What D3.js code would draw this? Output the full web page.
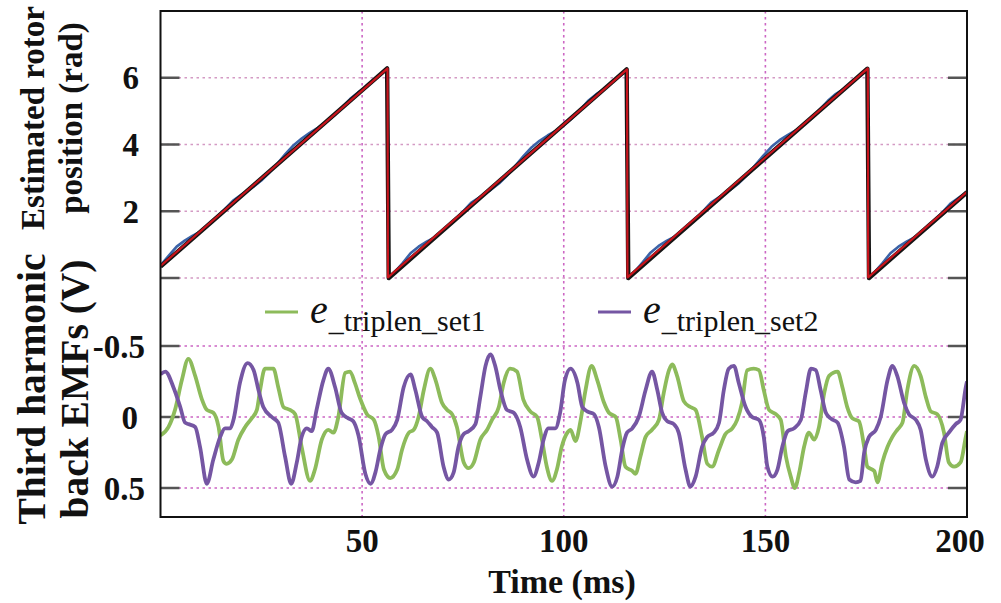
<!DOCTYPE html>
<html><head><meta charset="utf-8">
<script src="https://cdn.jsdelivr.net/npm/d3@7"></script>
<style>
html,body{margin:0;padding:0;background:#fff;}
svg{display:block;}
text{font-family:"Liberation Serif","Times New Roman",serif;}
</style></head>
<body>
<svg id="c" width="1001" height="603"></svg>
<script>
// ---------- data ----------
const timeTicks = [50, 100, 150, 200];
const posTicks = [0, 2, 4, 6];
const posTickLabels = [2, 4, 6];
const emfTicks = [-0.5, 0, 0.5];
const emfTickLabels = ["-0.5", "0", "0.5"];

// reference (black) and estimated (red) rotor position [ms, rad]
const posBlack = [[0,0.34],[56.2,6.28],[56.6,0],[115.6,6.25],[116.0,0],[175.3,6.27],[175.7,0],[200,2.57]];
const posRed   = [[0,0.36],[56.3,6.28],[56.4,0.02],[115.7,6.25],[115.8,0.02],[175.4,6.28],[175.5,0.02],[200,2.58]];
// blue (rippled) rotor position [ms, rad]
const posBlue = [
 [0,0.38],[2,0.66],[4,0.94],[6,1.12],[8,1.27],[10,1.40],[13,1.70],[16,2.07],[18,2.32],[20,2.49],[23,2.73],[25,2.92],[27,3.16],[29,3.43],[31,3.72],[33,3.98],[35,4.18],[37,4.35],[39,4.50],[41,4.67],[43,4.86],[45,5.11],[47,5.36],[49,5.56],[51,5.73],[54,6.04],[56.2,6.27],[56.6,0],
 [58,0.17],[60,0.44],[62,0.74],[64,0.94],[66,1.09],[68,1.22],[70,1.42],[73,1.72],[75,1.99],[77,2.25],[79,2.41],[82,2.65],[84,2.84],[86,3.08],[88,3.36],[90,3.65],[92,3.91],[94,4.11],[96,4.27],[98,4.41],[100,4.58],[102,4.78],[104,5.03],[106,5.30],[108,5.50],[110,5.66],[113,5.96],[115.6,6.23],[116.0,0],
 [117.5,0.18],[119.5,0.46],[121.5,0.76],[123.5,0.96],[125.5,1.11],[127.5,1.24],[129.5,1.43],[132.5,1.73],[134.5,2.00],[136.5,2.26],[138.5,2.42],[141.5,2.66],[143.5,2.85],[145.5,3.09],[147.5,3.38],[149.5,3.67],[151.5,3.93],[153.5,4.13],[155.5,4.28],[157.5,4.42],[159.5,4.59],[161.5,4.79],[163.5,5.05],[165.5,5.31],[167.5,5.52],[169.5,5.67],[172.5,5.97],[175.3,6.26],[175.7,0],
 [177,0.16],[179,0.44],[181,0.74],[183,0.94],[185,1.09],[187,1.22],[189,1.40],[192,1.71],[194,1.98],[196,2.24],[198,2.41],[200,2.57]
];

// third harmonic back EMFs [ms, V]
const eSet1 = [
 [0,0.13],[2.0,0.07],[3.6,-0.05],[5.3,-0.26],[6.9,-0.41],[8.6,-0.29],[10.2,-0.13],[11.5,-0.05],[13.1,-0.03],[14.4,0.07],[15.6,0.31],[16.4,0.33],[17.7,0.30],[19.3,0.16],[21.0,0.07],[22.6,0.01],[23.9,-0.05],[24.7,-0.19],[25.9,-0.34],[28.0,-0.34],[29.2,-0.21],[30.5,-0.07],[32.1,-0.05],[33.4,-0.02],[35.0,0.21],[37.1,0.45],[38.3,0.37],[40.0,0.16],[41.6,0.09],[42.9,0.11],[44.1,0.0],[45.8,-0.31],[47.0,-0.32],[48.2,-0.24],[49.5,-0.13],
 [51.2,-0.02],[52.9,0.02],[54.1,0.14],[55.4,0.37],[57.0,0.43],[58.7,0.37],[59.9,0.23],[61.6,0.11],[62.8,0.09],[64.0,0.0],[65.3,-0.19],[66.9,-0.34],[68.2,-0.26],[69.8,-0.10],[71.1,-0.05],[72.3,-0.02],[73.5,0.07],[75.2,0.32],[76.4,0.36],[77.7,0.32],[79.3,0.16],[81.0,0.09],[82.2,0.02],[83.9,-0.07],[85.1,-0.24],[86.7,-0.34],[88.4,-0.32],[90.0,-0.12],[91.7,-0.04],[93.4,0.0],[94.6,0.16],[95.8,0.35],[97.1,0.45],[98.3,0.37],[99.5,0.21],
 [100.9,0.11],[101.7,0.09],[102.9,0.17],[104.2,0.02],[105.4,-0.19],[106.9,-0.36],[108.3,-0.26],[110.0,-0.10],[111.2,-0.03],[112.9,0.0],[114.1,0.16],[115.3,0.35],[117.0,0.38],[117.8,0.40],[119.0,0.28],[120.3,0.14],[121.9,0.09],[123.6,0.02],[124.8,-0.17],[126.1,-0.33],[126.9,-0.37],[128.1,-0.29],[129.8,-0.11],[131.4,-0.07],[132.7,-0.05],[134.3,0.14],[135.6,0.33],[136.8,0.35],[138.5,0.23],[140.1,0.12],[141.8,0.08],[143.0,0.02],[144.2,-0.10],[145.5,-0.33],[147.1,-0.34],[148.4,-0.33],[149.6,-0.19],
 [150.9,-0.05],[152.6,-0.02],[153.8,0.02],[155.1,0.28],[156.3,0.42],[157.3,0.50],[158.4,0.39],[159.6,0.21],[160.8,0.11],[162.1,0.16],[163.3,0.07],[164.6,-0.17],[165.8,-0.29],[167.9,-0.32],[169.1,-0.21],[170.3,-0.07],[171.6,0.01],[173.2,0.03],[174.5,0.21],[175.3,0.35],[177.0,0.38],[177.8,0.46],[179.0,0.32],[180.3,0.21],[181.5,0.14],[182.7,0.09],[184.0,0.04],[185.2,-0.19],[186.9,-0.36],[188.5,-0.29],[189.8,-0.14],[191.0,-0.04],[192.6,-0.02],[194.3,0.11],[195.5,0.32],[196.8,0.35],[198.4,0.32],[199.7,0.14],[200,0.10]
];
const eSet2 = [
 [0,-0.30],[1.2,-0.32],[3.2,-0.21],[4.9,-0.07],[6.1,0.04],[6.9,0.05],[8.6,0.07],[9.8,0.21],[11.5,0.47],[13.1,0.30],[14.8,0.14],[16.0,0.08],[17.3,0.08],[18.1,0.02],[19.7,-0.24],[21.6,-0.38],[23.1,-0.33],[24.3,-0.19],[25.5,-0.07],[27.6,0.0],[29.2,0.04],[30.9,0.28],[32.4,0.47],[33.8,0.32],[35.0,0.14],[36.3,0.08],[37.5,0.10],[38.7,-0.05],[40.4,-0.26],[41.6,-0.34],[43.3,-0.21],[44.9,-0.03],[46.6,0.01],[47.8,0.03],[49.1,0.13],
 [50.8,0.40],[52.1,0.47],[53.3,0.39],[54.5,0.23],[55.8,0.12],[57.4,0.09],[58.7,0.02],[60.3,-0.21],[62.0,-0.30],[63.2,-0.19],[64.9,0.0],[66.1,0.03],[67.3,0.07],[68.6,0.11],[70.2,0.35],[71.5,0.44],[72.7,0.39],[73.9,0.21],[75.2,0.12],[76.4,0.10],[78.1,0.05],[79.3,-0.14],[80.6,-0.36],[81.8,-0.44],[83.0,-0.36],[84.3,-0.19],[85.9,-0.05],[87.6,-0.03],[89.2,0.07],[90.9,0.30],[92.5,0.42],[93.8,0.32],[95.0,0.16],[96.2,0.08],[97.9,0.08],[99.1,-0.03],
 [100.3,-0.26],[101.7,-0.34],[103.4,-0.24],[104.6,-0.07],[105.8,-0.04],[107.5,-0.02],[108.7,0.07],[110.4,0.35],[112.0,0.49],[113.3,0.42],[114.5,0.23],[115.7,0.11],[117.0,0.08],[118.6,0.0],[120.3,-0.19],[121.9,-0.32],[123.2,-0.19],[124.4,-0.03],[125.7,0.03],[127.3,0.05],[128.5,0.11],[130.2,0.37],[131.4,0.49],[132.7,0.42],[134.3,0.21],[135.6,0.14],[137.2,0.11],[138.5,0.04],[139.7,-0.19],[140.9,-0.34],[142.2,-0.36],[143.4,-0.24],[145.1,-0.07],[146.7,0.0],[148.4,0.02],[149.6,0.14],
 [150.5,0.35],[151.8,0.42],[153.0,0.37],[154.2,0.21],[155.5,0.10],[157.1,0.08],[158.8,0.02],[160.0,-0.17],[161.3,-0.34],[162.5,-0.33],[163.7,-0.19],[165.0,-0.03],[166.2,0.01],[167.9,0.04],[169.5,0.21],[170.8,0.44],[172.4,0.46],[173.6,0.45],[174.5,0.25],[175.7,0.14],[177.4,0.09],[178.6,0.0],[180.3,-0.26],[181.5,-0.36],[182.7,-0.29],[184.4,-0.10],[185.6,-0.02],[187.3,0.02],[188.5,0.09],[189.8,0.30],[191.4,0.42],[192.6,0.35],[193.9,0.18],[195.5,0.11],[197.2,0.05],[198.4,0.02],[199.7,-0.21],[200,-0.25]
];
const legendNames = ["_triplen_set1", "_triplen_set2"];

// ---------- layout ----------
const L = 160.5, R = 967, T = 11, MID = 278, B = 517;
const svg = d3.select("#c");
const x = d3.scaleLinear().domain([0, 200]).range([L, R]);
const yTop = d3.scaleLinear().domain([0, 8]).range([MID, T]);
const yBot = d3.scaleLinear().domain([-0.5, 0.5]).range([346, 488]);

const gridCol = "#cc66c4";
const defs = svg.append("defs");
defs.append("clipPath").attr("id","clipTop").append("rect").attr("x",L).attr("y",T).attr("width",R-L).attr("height",MID-T+3);
defs.append("clipPath").attr("id","clipBot").append("rect").attr("x",L).attr("y",MID).attr("width",R-L).attr("height",B-MID);

// grids
const grid = svg.append("g");
grid.selectAll(".hgT").data(posTicks).join("line")
  .attr("x1",L).attr("x2",R).attr("y1",d=>yTop(d)).attr("y2",d=>yTop(d))
  .attr("stroke","#d49ac4").attr("stroke-width",1.6).attr("stroke-dasharray","2.5,3.5");
grid.selectAll(".hgB").data(emfTicks).join("line")
  .attr("x1",L).attr("x2",R).attr("y1",d=>yBot(d)).attr("y2",d=>yBot(d))
  .attr("stroke",gridCol).attr("stroke-width",1.6).attr("stroke-dasharray","2.5,3.5");
grid.selectAll(".vg").data(timeTicks.slice(0,3)).join("line")
  .attr("x1",d=>x(d)).attr("x2",d=>x(d)).attr("y1",T).attr("y2",B)
  .attr("stroke",gridCol).attr("stroke-width",1.6).attr("stroke-dasharray","2.5,3.5");

// inner ticks
const tickCol = "#555";
const tk = svg.append("g").attr("stroke",tickCol).attr("stroke-width",2.5);
[...posTicks.map(d=>yTop(d)), ...emfTicks.map(d=>yBot(d))].forEach(yy=>{
  tk.append("line").attr("x1",L).attr("x2",L+19).attr("y1",yy).attr("y2",yy);
  tk.append("line").attr("x1",R-19).attr("x2",R).attr("y1",yy).attr("y2",yy);
});

// top lines
const lineTl = d3.line().x(d=>x(d[0])).y(d=>yTop(d[1]));
const gT = svg.append("g").attr("clip-path","url(#clipTop)");
gT.append("path").attr("d",lineTl(posBlue)).attr("fill","none").attr("stroke","#3b63a8").attr("stroke-width",2.6).attr("stroke-linejoin","round");
gT.append("path").attr("d",lineTl(posBlack)).attr("fill","none").attr("stroke","#151515").attr("stroke-width",4.4).attr("stroke-linejoin","round");
gT.append("path").attr("d",lineTl(posRed)).attr("fill","none").attr("stroke","#c8141c").attr("stroke-width",2.2).attr("stroke-linejoin","round");

// bottom lines
const lineB = d3.line().x(d=>x(d[0])).y(d=>yBot(d[1])).curve(d3.curveMonotoneX);
const gB = svg.append("g").attr("clip-path","url(#clipBot)");
const green = "#8dbb5b", purple = "#7556a3";
gB.append("path").attr("d",lineB(eSet1)).attr("fill","none").attr("stroke",green).attr("stroke-width",3.8).attr("stroke-linejoin","round");
gB.append("path").attr("d",lineB(eSet2)).attr("fill","none").attr("stroke",purple).attr("stroke-width",3.8).attr("stroke-linejoin","round");

// frame
svg.append("rect").attr("x",L).attr("y",T).attr("width",R-L).attr("height",B-T)
  .attr("fill","none").attr("stroke","#111").attr("stroke-width",2);

// legend
const legCols = [green, purple];
const legX = [265, 598];
legendNames.forEach((nm,i)=>{
  svg.append("line").attr("x1",legX[i]).attr("x2",legX[i]+33).attr("y1",312).attr("y2",312)
    .attr("stroke",legCols[i]).attr("stroke-width",3);
  const t = svg.append("text").attr("x",legX[i]+45).attr("y",323).attr("fill","#111");
  t.append("tspan").attr("font-style","italic").attr("font-size",40).text("e");
  t.append("tspan").attr("font-size",30).attr("dy",8).attr("dx",1).text(nm);
});

// tick labels
const lab = svg.append("g").attr("font-weight","bold").attr("fill","#111");
lab.selectAll(".py").data(posTickLabels).join("text")
  .attr("x",139).attr("y",d=>yTop(d)).attr("dy","0.35em").attr("text-anchor","end")
  .attr("font-size",33).text(d=>d);
lab.selectAll(".ey").data(emfTicks).join("text")
  .attr("x",(d,i)=>i===1?138:145).attr("y",d=>yBot(d)).attr("dy","0.35em").attr("text-anchor","end")
  .attr("font-size",33).text((d,i)=>emfTickLabels[i]);
lab.selectAll(".tx").data(timeTicks).join("text")
  .attr("x",d=>x(d)).attr("dx",(d,i)=>i===3?-7:0).attr("y",552).attr("text-anchor","middle")
  .attr("font-size",33).text(d=>d);
lab.append("text").attr("x",562).attr("y",593).attr("text-anchor","middle").attr("font-size",34).text("Time (ms)");

// y titles
function vtitle(txt, bx, cy, fs){
  lab.append("text").attr("transform",`translate(${bx},${cy}) rotate(-90)`)
    .attr("text-anchor","middle").attr("font-size",fs).text(txt);
}
vtitle("Estimated rotor", 44, 118, 33);
vtitle("position (rad)", 82, 118, 33);
vtitle("Third harmonic", 45, 389, 39.5);
vtitle("back EMFs (V)", 88, 389, 39.5);
</script>
</body></html>
